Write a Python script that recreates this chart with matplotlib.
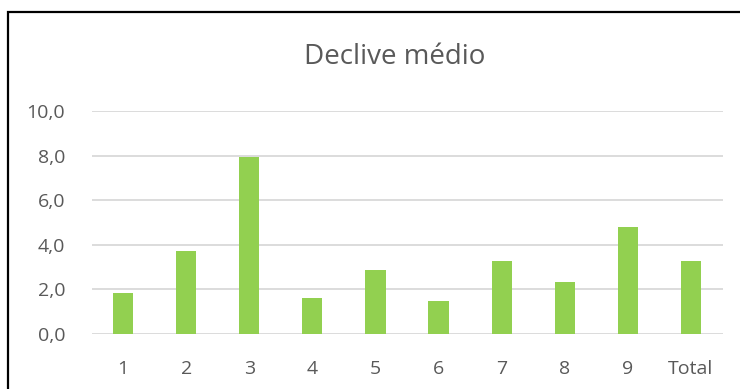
import matplotlib
matplotlib.use('Agg')
import matplotlib.pyplot as plt
from matplotlib.patches import Rectangle

categories = ['1', '2', '3', '4', '5', '6', '7', '8', '9', 'Total']
values = [1.82, 3.72, 7.95, 1.61, 2.88, 1.48, 3.27, 2.35, 4.78, 3.26]
yticks = [0, 2, 4, 6, 8, 10]

plt.rcParams['font.family'] = ['Open Sans', 'DejaVu Sans']
text_color = '#595959'

fig = plt.figure(figsize=(7.4, 3.89), dpi=100)
ax = fig.add_axes([91.5 / 740, 55 / 389, 631 / 740, 223 / 389])

x = range(len(categories))
ax.bar(x, values, width=0.32, color='#92D050', zorder=3)

ax.set_xlim(-0.5, len(categories) - 0.5)
ax.set_ylim(0, 10)
ax.set_yticks(yticks)
ax.set_yticklabels([('%.1f' % v).replace('.', ',') for v in yticks])
ax.set_xticks(list(x))
ax.set_xticklabels(categories)
ax.tick_params(axis='both', length=0, colors=text_color, labelsize=14)
ax.tick_params(axis='x', pad=19)
ax.tick_params(axis='y', pad=19)
ax.grid(axis='y', color='#D9D9D9', linewidth=1.3, zorder=0)
for s in ax.spines.values():
    s.set_visible(False)

fig.text(395 / 740, 1 - 57 / 389, 'Declive médio', ha='center', va='center',
         fontsize=20, color=text_color)

fig.patches.append(Rectangle((7.5 / 740, -0.05), 1.0, 0.05 + (389 - 11.5) / 389,
                             transform=fig.transFigure, fill=False,
                             edgecolor='black', linewidth=1.6))

fig.savefig('out.png', dpi=100)
